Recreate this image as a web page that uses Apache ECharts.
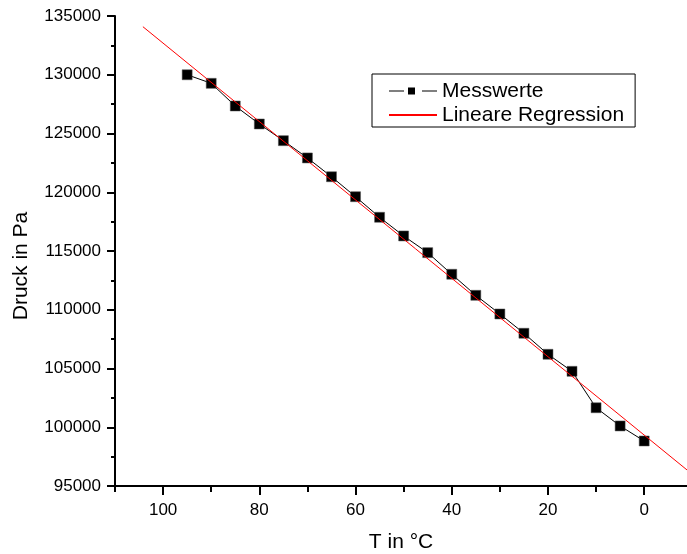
<!DOCTYPE html>
<html>
<head>
<meta charset="utf-8">
<script src="https://cdn.jsdelivr.net/npm/echarts@6/dist/echarts.min.js"></script>
<style>
  html, body { margin: 0; padding: 0; background: #fff; }
  #chart { width: 687px; height: 554px; }
</style>
</head>
<body>
<div id="chart"></div>
<script>
// Messwerte: Temperatur (°C) und Druck (Pa)
const temps = [95, 90, 85, 80, 75, 70, 65, 60, 55, 50, 45, 40, 35, 30, 25, 20, 15, 10, 5, 0];
const pressures = [130000, 129270, 127340, 125810, 124390, 122920, 121320, 119620, 117870, 116280,
  114860, 113020, 111230, 109640, 108000, 106210, 104760, 101660, 100110, 98830];

// Endpunkte der Regressionsgeraden
const regT = [104.2, -10];
const regP = [134090, 96000];

const xLabelValues = [100, 80, 60, 40, 20, 0];
const xMinorValues = [110, 90, 70, 50, 30, 10];

const font = 'Liberation Sans, Arial, sans-serif';

const chart = echarts.init(document.getElementById('chart'), null, { renderer: 'canvas' });

const baseX = {
  type: 'value',
  inverse: true,
  min: -8.9,
  max: 110,
  gridIndex: 0,
  position: 'bottom',
  splitLine: { show: false }
};

// Legendensymbol: Linie - Quadrat - Linie (mit Lücken wie im Original)
const messIcon = 'path://M0,3h15v1h-15zM33,3h15v1h-15zM19,0h7v7h-7z';

const option = {
  animation: false,
  backgroundColor: '#fff',
  grid: { left: 115, right: 0, top: 16, bottom: 68, containLabel: false, outerBoundsMode: 'none' },
  legend: {
    orient: 'vertical',
    left: 372,
    top: 74,
    padding: [6, 11, 1, 16],
    itemGap: 2,
    itemWidth: 48,
    itemHeight: 7,
    borderColor: '#000',
    borderWidth: 1,
    textStyle: { fontFamily: font, fontSize: 21, color: '#000', lineHeight: 22 },
    data: [
      { name: 'Messwerte', icon: messIcon, itemStyle: { color: '#000', borderWidth: 0 } },
      { name: 'Lineare Regression', itemStyle: { opacity: 0 } }
    ]
  },
  xAxis: [
    Object.assign({}, baseX, {
      name: 'T in °C',
      nameLocation: 'middle',
      nameGap: 46,
      nameTextStyle: { fontFamily: font, fontSize: 21, color: '#000' },
      axisLine: { show: true, onZero: false, lineStyle: { color: '#000', width: 2 } },
      axisTick: { show: true, customValues: xLabelValues, length: 9, lineStyle: { color: '#000', width: 2 } },
      axisLabel: { customValues: xLabelValues, margin: 16, fontFamily: font, fontSize: 17, color: '#000' }
    }),
    Object.assign({}, baseX, {
      axisLine: { show: false, onZero: false },
      axisTick: { show: true, customValues: xMinorValues, length: 6, lineStyle: { color: '#000', width: 2 } },
      axisLabel: { show: false }
    })
  ],
  yAxis: {
    type: 'value',
    min: 95000,
    max: 135000,
    interval: 5000,
    name: 'Druck in Pa',
    nameLocation: 'middle',
    nameGap: 83,
    nameTextStyle: { fontFamily: font, fontSize: 21, color: '#000', padding: [0, 30, 0, 0] },
    splitLine: { show: false },
    axisLine: { show: true, onZero: false, lineStyle: { color: '#000', width: 2 } },
    axisTick: { show: true, length: 8, lineStyle: { color: '#000', width: 2 } },
    minorTick: { show: true, splitNumber: 2, length: 4, lineStyle: { color: '#000', width: 2 } },
    axisLabel: { margin: 14, fontFamily: font, fontSize: 17, color: '#000', formatter: v => String(v) }
  },
  series: [
    {
      name: 'Messwerte',
      type: 'line',
      xAxisIndex: 0,
      data: temps.map((t, i) => [t, pressures[i]]),
      symbol: 'rect',
      symbolSize: 10,
      showAllSymbol: true,
      itemStyle: { color: '#000', borderColor: '#555', borderWidth: 0.5 },
      lineStyle: { color: '#000', width: 1 },
      z: 3
    },
    {
      name: 'Lineare Regression',
      type: 'line',
      xAxisIndex: 0,
      data: regT.map((t, i) => [t, regP[i]]),
      symbol: 'none',
      itemStyle: { color: '#ff0000' },
      lineStyle: { color: '#ff0000', width: 1 },
      clip: true,
      z: 4
    }
  ]
};

chart.setOption(option);
</script>
</body>
</html>
